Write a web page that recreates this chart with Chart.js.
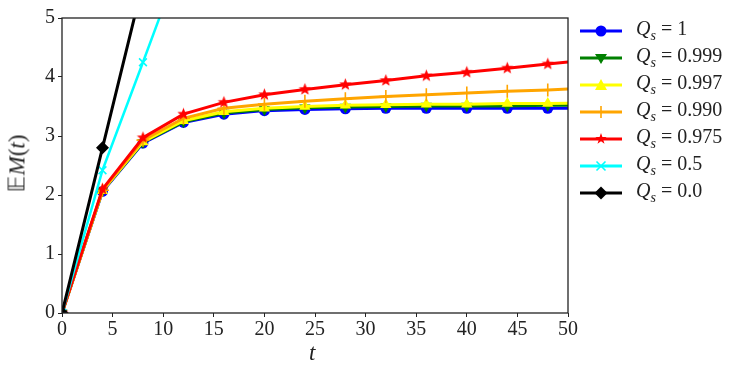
<!DOCTYPE html>
<html>
<head>
<meta charset="utf-8">
<script src="https://cdn.jsdelivr.net/npm/chart.js@4.4.0/dist/chart.umd.min.js"></script>
<style>
  html, body { margin: 0; padding: 0; background: #fff; }
  #wrap { position: relative; width: 748px; height: 382px; }
  #legend { position: absolute; left: 580px; top: 17px; font-family: 'Liberation Serif', serif; font-size: 20px; color: #222; }
  .row { height: 27px; display: flex; align-items: center; }
  .row svg { margin-right: 14px; }
  .row sub { font-size: 14px; }
  #ytitle { position: absolute; left: -12px; top: 150px; transform: rotate(-90deg); transform-origin: center; font-family: 'Liberation Serif', serif; font-size: 23px; color: #222; white-space: nowrap; }
  #xtitle { position: absolute; left: 309px; top: 340px; font-family: 'Liberation Serif', serif; font-size: 23px; font-style: italic; color: #222; }
</style>
</head>
<body>
<div id="wrap">
  <canvas id="chart" width="748" height="382"></canvas>
  <div id="ytitle">&#x1D53C;<i>M</i>(<i>t</i>)</div>
  <div id="xtitle">t</div>
  <div id="legend"></div>
</div>
<script>
// data
const tValues = [0, 4, 8, 12, 16, 20, 24, 28, 32, 36, 40, 44, 48, 52];
const qs1 = [0, 2.06, 2.88, 3.23, 3.37, 3.43, 3.45, 3.46, 3.47, 3.47, 3.47, 3.47, 3.47, 3.47];
const qs0999 = [0, 2.07, 2.89, 3.24, 3.39, 3.45, 3.48, 3.49, 3.50, 3.51, 3.51, 3.51, 3.52, 3.52];
const qs0997 = [0, 2.07, 2.90, 3.26, 3.41, 3.47, 3.50, 3.52, 3.53, 3.54, 3.54, 3.55, 3.55, 3.56];
const qs0990 = [0, 2.08, 2.93, 3.30, 3.47, 3.54, 3.59, 3.63, 3.67, 3.70, 3.73, 3.76, 3.78, 3.81];
const qs0975 = [0, 2.10, 2.97, 3.37, 3.57, 3.70, 3.79, 3.87, 3.94, 4.02, 4.08, 4.15, 4.22, 4.29];
const qs05 = [0, 2.42, 4.25, 6.1];
const qs00 = [0, 2.8, 5.6, 8.4];
const seriesLabels = ['1', '0.999', '0.997', '0.990', '0.975', '0.5', '0.0'];
const xTicks = [0, 5, 10, 15, 20, 25, 30, 35, 40, 45, 50];
const yTicks = [0, 1, 2, 3, 4, 5];

function starImage(color, r) {
    const c = document.createElement('canvas');
    const s = Math.ceil(r * 2 + 2);
    c.width = s; c.height = s;
    const g = c.getContext('2d');
    g.fillStyle = color;
    g.beginPath();
    for (let i = 0; i < 10; i++) {
        const rad = i % 2 === 0 ? r : r * 0.42;
        const a = -Math.PI / 2 + i * Math.PI / 5;
        g.lineTo(s / 2 + rad * Math.cos(a), s / 2 + rad * Math.sin(a));
    }
    g.closePath();
    g.fill();
    return c;
}

function toPoints(values) {
    return values.map((v, i) => ({ x: tValues[i], y: v }));
}

const styles = [
    { color: '#0000ff', pointStyle: 'circle', radius: 5.5, rotation: 0, width: 3 },
    { color: '#008000', pointStyle: 'triangle', radius: 6.5, rotation: 180, width: 3 },
    { color: '#ffff00', pointStyle: 'triangle', radius: 6.5, rotation: 0, width: 3 },
    { color: '#ffa500', pointStyle: 'cross', radius: 6.5, rotation: 0, width: 3 },
    { color: '#ff0000', pointStyle: starImage('#ff0000', 6.5), radius: 6.5, rotation: 0, width: 3 },
    { color: '#00ffff', pointStyle: 'crossRot', radius: 5.5, rotation: 0, width: 2.5 },
    { color: '#000000', pointStyle: 'rectRot', radius: 6.5, rotation: 0, width: 3 }
];
const seriesData = [qs1, qs0999, qs0997, qs0990, qs0975, qs05, qs00];

const datasets = seriesData.map((vals, i) => ({
    label: 'Q_s = ' + seriesLabels[i],
    data: toPoints(vals),
    borderColor: styles[i].color,
    backgroundColor: styles[i].color,
    borderWidth: styles[i].width,
    pointStyle: styles[i].pointStyle,
    pointRadius: styles[i].radius,
    pointRotation: styles[i].rotation,
    pointBorderWidth: (styles[i].pointStyle === 'cross' || styles[i].pointStyle === 'crossRot') ? 1.6 : 0,
    pointBorderColor: styles[i].color,
    pointBackgroundColor: styles[i].color,
    tension: 0,
    order: seriesData.length - i
}));

const frame = {
    id: 'frame',
    afterDatasetsDraw(chart) {
        const a = chart.chartArea;
        const ctx = chart.ctx;
        ctx.save();
        ctx.strokeStyle = '#222';
        ctx.lineWidth = 1.3;
        ctx.strokeRect(a.left, a.top, a.right - a.left, a.bottom - a.top);
        ctx.restore();
    }
};

const tickFont = { family: "'Liberation Serif', serif", size: 20 };

new Chart(document.getElementById('chart'), {
    type: 'line',
    data: { datasets: datasets },
    options: {
        responsive: false,
        animation: false,
        layout: { padding: { top: 18, right: 180, left: 0, bottom: 0 } },
        plugins: { legend: { display: false }, tooltip: { enabled: false } },
        scales: {
            x: {
                type: 'linear',
                min: 0, max: 50,
                afterBuildTicks: s => { s.ticks = xTicks.map(v => ({ value: v })); },
                afterFit: s => { s.height = 69; },
                ticks: { color: '#222', font: tickFont, padding: 1, maxRotation: 0 },
                grid: { drawOnChartArea: false, tickLength: 4, color: '#222', lineWidth: 1 },
                border: { display: false }
            },
            y: {
                min: 0, max: 5,
                afterBuildTicks: s => { s.ticks = yTicks.map(v => ({ value: v })); },
                afterFit: s => { s.width = 62; },
                ticks: { color: '#222', font: tickFont, padding: 3 },
                grid: { drawOnChartArea: false, tickLength: 4, color: '#222', lineWidth: 1 },
                border: { display: false }
            }
        }
    },
    plugins: [frame]
});

// legend as html so the subscript stays real text
const legend = document.getElementById('legend');
seriesLabels.forEach((lab, i) => {
    const st = styles[i];
    let marker = '';
    const c = st.color;
    if (st.pointStyle === 'circle') marker = `<circle cx="21" cy="8" r="5.5" fill="${c}"/>`;
    else if (st.pointStyle === 'triangle' && st.rotation === 180) marker = `<polygon points="15,4 27,4 21,14" fill="${c}"/>`;
    else if (st.pointStyle === 'triangle') marker = `<polygon points="15,13 27,13 21,2" fill="${c}"/>`;
    else if (st.pointStyle === 'cross') marker = `<path d="M21 2 V14 M15 8 H27" stroke="${c}" stroke-width="1.6"/>`;
    else if (st.pointStyle === 'crossRot') marker = `<path d="M16.5 3.5 L25.5 12.5 M25.5 3.5 L16.5 12.5" stroke="${c}" stroke-width="1.6"/>`;
    else if (st.pointStyle === 'rectRot') marker = `<polygon points="21,1.5 27.5,8 21,14.5 14.5,8" fill="${c}"/>`;
    else marker = `<polygon points="21,2 22.4,6.1 26.7,6.1 23.2,8.7 24.5,12.8 21,10.3 17.5,12.8 18.8,8.7 15.3,6.1 19.6,6.1" fill="${c}"/>`;
    const row = document.createElement('div');
    row.className = 'row';
    row.innerHTML = `<svg width="42" height="16"><line x1="0" y1="8" x2="42" y2="8" stroke="${c}" stroke-width="3"/>${marker}</svg>` +
        `<span><i>Q<sub>s</sub></i> = ${lab}</span>`;
    legend.appendChild(row);
});
</script>
</body>
</html>
